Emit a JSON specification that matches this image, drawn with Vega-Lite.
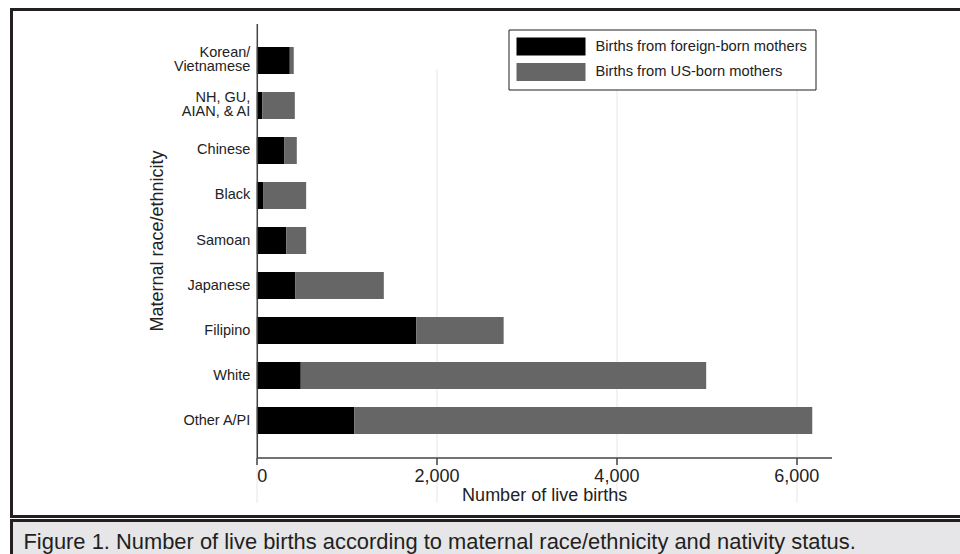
{
  "$schema": "https://vega.github.io/schema/vega-lite/v6.json",
  "background": "white",
  "padding": {"left": 9.5, "top": 7.5, "right": 0, "bottom": 0},
  "spacing": 0,
  "config": {
    "font": "Liberation Sans",
    "view": {"stroke": "#231f20", "strokeWidth": 3}
  },
  "vconcat": [
    {
      "width": 952,
      "height": 507,
      "data": {
        "values": [
          {"race": "Korean/\nVietnamese", "nativity": "Births from foreign-born mothers", "births": 367},
          {"race": "Korean/\nVietnamese", "nativity": "Births from US-born mothers", "births": 44},
          {"race": "NH, GU,\nAIAN, & AI", "nativity": "Births from foreign-born mothers", "births": 60},
          {"race": "NH, GU,\nAIAN, & AI", "nativity": "Births from US-born mothers", "births": 363},
          {"race": "Chinese", "nativity": "Births from foreign-born mothers", "births": 308},
          {"race": "Chinese", "nativity": "Births from US-born mothers", "births": 137},
          {"race": "Black", "nativity": "Births from foreign-born mothers", "births": 75},
          {"race": "Black", "nativity": "Births from US-born mothers", "births": 474},
          {"race": "Samoan", "nativity": "Births from foreign-born mothers", "births": 327},
          {"race": "Samoan", "nativity": "Births from US-born mothers", "births": 222},
          {"race": "Japanese", "nativity": "Births from foreign-born mothers", "births": 430},
          {"race": "Japanese", "nativity": "Births from US-born mothers", "births": 983},
          {"race": "Filipino", "nativity": "Births from foreign-born mothers", "births": 1773},
          {"race": "Filipino", "nativity": "Births from US-born mothers", "births": 973},
          {"race": "White", "nativity": "Births from foreign-born mothers", "births": 489},
          {"race": "White", "nativity": "Births from US-born mothers", "births": 4510},
          {"race": "Other A/PI", "nativity": "Births from foreign-born mothers", "births": 1083},
          {"race": "Other A/PI", "nativity": "Births from US-born mothers", "births": 5096}
        ]
      },
      "mark": {"type": "bar"},
      "encoding": {
        "y": {
          "field": "race",
          "type": "nominal",
          "sort": ["Korean/\nVietnamese", "NH, GU,\nAIAN, & AI", "Chinese", "Black", "Samoan", "Japanese", "Filipino", "White", "Other A/PI"],
          "scale": {"range": [14, 448], "paddingInner": 0.4, "paddingOuter": 0.522},
          "axis": {
            "orient": "left",
            "offset": -245.3,
            "title": "Maternal race/ethnicity",
            "ticks": false,
            "domainColor": "#444444",
            "domainWidth": 1.5,
            "labelFontSize": 14.5,
            "labelColor": "#222222",
            "labelPadding": 7,
            "labelExpr": "split(datum.label, '\\n')",
            "labelLineHeight": 13.5,
            "labelOffset": {"condition": {"test": "indexof(datum.label, '\\n') >= 0", "value": -7}, "value": 0},
            "labelLimit": 300,
            "titleFontSize": 18,
            "titleFontWeight": "normal",
            "titleColor": "#222222",
            "titlePadding": 7,
            "zindex": 1
          }
        },
        "x": {
          "field": "births",
          "type": "quantitative",
          "stack": "zero",
          "scale": {"domain": [0, 6393], "range": [245.3, 820], "nice": false, "zero": true},
          "axis": {
            "orient": "bottom",
            "offset": -59,
            "values": [0, 2000, 4000, 6000],
            "format": ",.0f",
            "title": "Number of live births",
            "grid": true,
            "gridColor": "#e6e6e6",
            "gridWidth": 1,
            "tickSize": 7,
            "tickColor": "#444444",
            "tickWidth": 1.5,
            "domainColor": "#444444",
            "domainWidth": 1.5,
            "labelFontSize": 18,
            "labelColor": "#222222",
            "labelPadding": 3,
            "titleFontSize": 18,
            "titleFontWeight": "normal",
            "titleColor": "#222222",
            "titlePadding": 1
          }
        },
        "color": {
          "field": "nativity",
          "type": "nominal",
          "scale": {
            "domain": ["Births from foreign-born mothers", "Births from US-born mothers"],
            "range": ["#000000", "#666666"]
          },
          "legend": {
            "orient": "none",
            "legendX": 497,
            "legendY": 20,
            "title": null,
            "direction": "vertical",
            "strokeColor": "#231f20",
            "fillColor": "white",
            "padding": 8,
            "symbolType": "M-1,-1H6.667V1H-1Z",
            "symbolSize": 324,
            "symbolStrokeWidth": 0,
            "symbolOpacity": 1,
            "labelFontSize": 14.7,
            "labelColor": "#222222",
            "labelOffset": 61,
            "labelLimit": 400,
            "rowPadding": 7.5
          }
        },
        "order": {"field": "nativity", "sort": "descending"}
      }
    },
    {
      "width": 952,
      "height": 42,
      "view": {"fill": "#e6e6e8", "stroke": "#231f20", "strokeWidth": 3},
      "data": {"values": [{"caption": "Figure 1. Number of live births according to maternal race/ethnicity and nativity status."}]},
      "mark": {"type": "text", "align": "left", "baseline": "middle", "dx": 12, "font": "Liberation Sans", "fontSize": 21.9, "color": "#231f20"},
      "encoding": {
        "text": {"field": "caption"},
        "x": {"datum": 0, "type": "quantitative", "scale": {"domain": [0, 1]}, "axis": null}
      }
    }
  ]
}
